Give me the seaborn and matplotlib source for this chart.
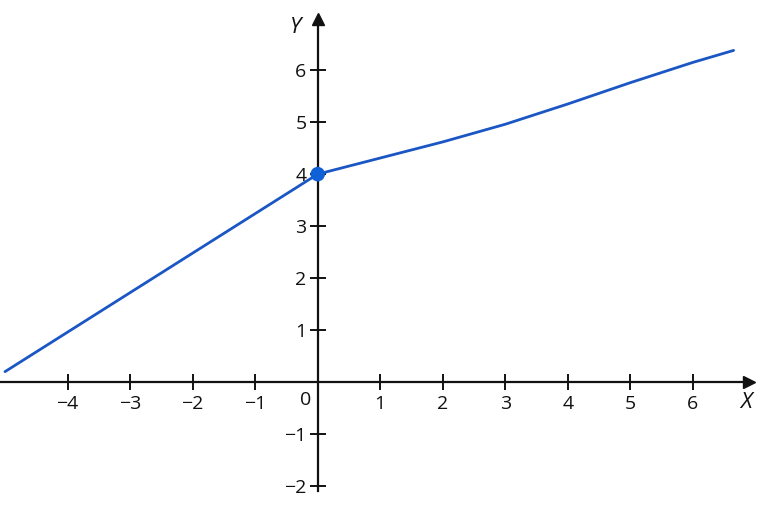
import numpy as np
import pandas as pd
import matplotlib
matplotlib.use('Agg')
import matplotlib.pyplot as plt
import seaborn as sns

# values
x_left = [-5.0, 0.0]
y_left = [0.2, 4.0]
x_right = [0.0, 1.0, 2.0, 3.0, 4.0, 5.0, 6.0, 6.65]
y_right = [4.0, 4.31, 4.62, 4.96, 5.35, 5.76, 6.15, 6.38]
point_x = [0.0]
point_y = [4.0]
x_ticks = [-4, -3, -2, -1, 1, 2, 3, 4, 5, 6]
y_ticks = [-2, -1, 1, 2, 3, 4, 5, 6]

sns.set_style("white")
plt.rcParams['font.family'] = ['Open Sans', 'DejaVu Sans']

line_color = "#1a56c4"
left = pd.DataFrame({"x": x_left, "y": y_left})
right = pd.DataFrame({"x": x_right, "y": y_right})
pt = pd.DataFrame({"x": point_x, "y": point_y})

fig = plt.figure(figsize=(7.68, 5.12), dpi=100)
ax = fig.add_axes([0, 0, 1, 1])

sns.lineplot(data=left, x="x", y="y", color=line_color, lw=2, ax=ax)
sns.lineplot(data=right, x="x", y="y", color=line_color, lw=2, ax=ax)
sns.scatterplot(data=pt, x="x", y="y", color="#1060d8", s=110, edgecolor="none", zorder=5, ax=ax)

ax.set_xlim(-5.08, 7.2)
ax.set_ylim(-2.5, 7.35)

# axes through origin
for s in ["top", "right"]:
    ax.spines[s].set_visible(False)
ax.spines["left"].set_position(("data", 0))
ax.spines["bottom"].set_position(("data", 0))
ax.spines["bottom"].set_bounds(-5.08, 6.85)
ax.spines["left"].set_bounds(-2.1, 6.95)
for s in ["left", "bottom"]:
    ax.spines[s].set_linewidth(1.6)
    ax.spines[s].set_color("#111111")
ax.plot(6.9, 0, marker=">", color="#111111", ms=9, clip_on=False)
ax.plot(0, 6.98, marker="^", color="#111111", ms=9, clip_on=False)

ax.set_xticks(x_ticks)
ax.set_yticks(y_ticks)
ax.set_xticklabels([f"\u2212{abs(t)}" if t < 0 else str(t) for t in x_ticks])
ax.set_yticklabels([f"\u2212{abs(t)}" if t < 0 else str(t) for t in y_ticks])
ax.tick_params(axis="both", bottom=True, left=True, direction="inout", length=12, width=1.4,
               colors="#111111", labelsize=14, pad=2)
ax.tick_params(axis="x", pad=3)
ax.text(-0.1, -0.18, "0", ha="right", va="top", fontsize=14, color="#111111")

ax.set_xlabel("")
ax.set_ylabel("")
ax.text(6.85, -0.2, "X", ha="center", va="top", fontsize=16, style="italic", color="#111111")
ax.text(-0.35, 6.82, "Y", ha="center", va="center", fontsize=16, style="italic", color="#111111")

fig.savefig("out.png", dpi=100)
plt.close()
